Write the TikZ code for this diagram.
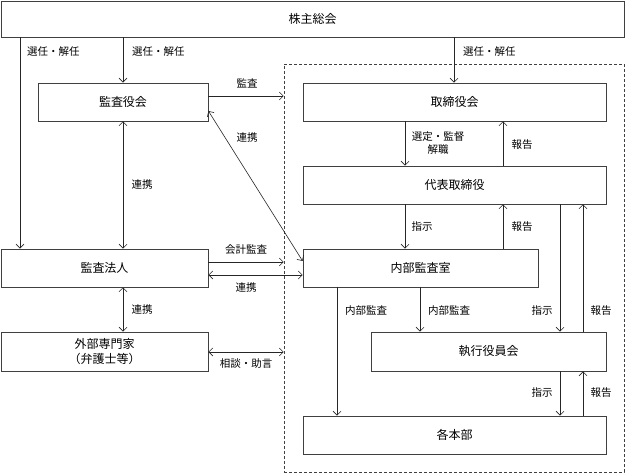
\documentclass[tikz,border=0pt]{standalone}
\usepackage{fontspec}
\setmainfont{Noto Sans CJK JP}
\usetikzlibrary{arrows.meta}

\begin{document}
\begin{tikzpicture}[
    x=1pt,y=-1pt,
    box/.style={draw=black!75, line width=0.8pt, inner sep=0pt, minimum height=38pt, font=\fontsize{12}{15}\selectfont},
    arr/.style={draw=black!85, line width=0.6pt, -{Straight Barb[length=4pt,width=8pt]}},
    darr/.style={arr, {Straight Barb[length=4pt,width=8pt]}-{Straight Barb[length=4pt,width=8pt]}},
    lbl/.style={inner sep=0pt, font=\fontsize{10.5}{13}\selectfont}
    ]
    \useasboundingbox (0,0) rectangle (625,473);
    % frame and boxes
    \node[draw=black!75, line width=0.6pt, dash pattern=on 3pt off 2pt, minimum width=340pt, minimum height=408pt] (frame) at (454,268) {};
    \node[box, minimum width=623pt, minimum height=36pt] (sh) at (312.5,19) {株主総会};
    \node[box, minimum width=170pt] (kansa) at (123,102) {監査役会};
    \node[box, minimum width=303pt] (tori) at (454.5,102) {取締役会};
    \node[box, minimum width=303pt] (daihyo) at (454.5,185) {代表取締役};
    \node[box, minimum width=207pt] (hojin) at (104.5,268) {監査法人};
    \node[box, minimum width=235pt] (naibu) at (420.5,268) {内部監査室};
    \node[box, minimum width=207pt, minimum height=39pt, align=center] (gaibu) at (104.5,351.5) {外部専門家\\（弁護士等）};
    \node[box, minimum width=235pt, minimum height=39pt] (shikko) at (488.5,351.5) {執行役員会};
    \node[box, minimum width=303pt] (honbu) at (454.5,435) {各本部};
    % columns and rows
    \coordinate (xa) at (20,0);
    \coordinate (xb) at (123,0);
    \coordinate (xc) at (454,0);
    \coordinate (xd) at (405,0);
    \coordinate (xe) at (503,0);
    \coordinate (xf) at (560,0);
    \coordinate (xg) at (583,0);
    \coordinate (xh) at (337,0);
    \coordinate (xi) at (420,0);
    \coordinate (ya) at (0,96);
    \coordinate (yb) at (0,262);
    \coordinate (yc) at (0,275);
    \coordinate (yd) at (0,352);
    \coordinate (ye) at (0,111);
    \coordinate (yf) at (0,261);
    % connectors
    \draw[arr] (sh.south -| xa) -- (hojin.north -| xa);
    \draw[arr] (sh.south -| xb) -- (kansa.north -| xb);
    \draw[arr] (sh.south -| xc) -- (tori.north -| xc);
    \draw[arr] (kansa.east |- ya) -- (frame.west |- ya);
    \draw[darr] (kansa.south) -- (hojin.north -| xb);
    \draw[darr] (kansa.east |- ye) -- (naibu.west |- yf);
    \draw[arr] (hojin.east |- yb) -- (frame.west |- yb);
    \draw[darr] (hojin.east |- yc) -- (naibu.west |- yc);
    \draw[darr] (hojin.south -| xb) -- (gaibu.north -| xb);
    \draw[darr] (gaibu.east |- yd) -- (frame.west |- yd);
    \draw[arr] (tori.south -| xd) -- (daihyo.north -| xd);
    \draw[arr] (daihyo.north -| xe) -- (tori.south -| xe);
    \draw[arr] (daihyo.south -| xd) -- (naibu.north -| xd);
    \draw[arr] (naibu.north -| xe) -- (daihyo.south -| xe);
    \draw[arr] (daihyo.south -| xf) -- (shikko.north -| xf);
    \draw[arr] (shikko.north -| xg) -- (daihyo.south -| xg);
    \draw[arr] (naibu.south -| xh) -- (honbu.north -| xh);
    \draw[arr] (naibu.south -| xi) -- (shikko.north -| xi);
    \draw[arr] (shikko.south -| xf) -- (honbu.north -| xf);
    \draw[arr] (honbu.north -| xg) -- (shikko.south -| xg);
    % labels
    \node[lbl, anchor=west] (l1) at (27,52) {選任・解任};
    \node[lbl, anchor=west] (l2) at (132,52) {選任・解任};
    \node[lbl, anchor=west] (l3) at (463,52) {選任・解任};
    \node[lbl] (l4) at (247,83) {監査};
    \node[lbl] (l5) at (247,138) {連携};
    \node[lbl] (l6) at (142,185) {連携};
    \node[lbl] (l7) at (246,250) {会計監査};
    \node[lbl] (l8) at (246,288) {連携};
    \node[lbl] (l9) at (142,310) {連携};
    \node[lbl] (l10) at (246,364) {相談・助言};
    \node[lbl, align=center] (l11) at (438,143) {選定・監督\\解職};
    \node[lbl] (l12) at (522,145) {報告};
    \node[lbl] (l13) at (422,227) {指示};
    \node[lbl] (l14) at (522,227) {報告};
    \node[lbl] (l15) at (366,311) {内部監査};
    \node[lbl] (l16) at (449,311) {内部監査};
    \node[lbl] (l17) at (542,311) {指示};
    \node[lbl] (l18) at (601,311) {報告};
    \node[lbl] (l19) at (542,393) {指示};
    \node[lbl] (l20) at (601,393) {報告};
\end{tikzpicture}
\end{document}
